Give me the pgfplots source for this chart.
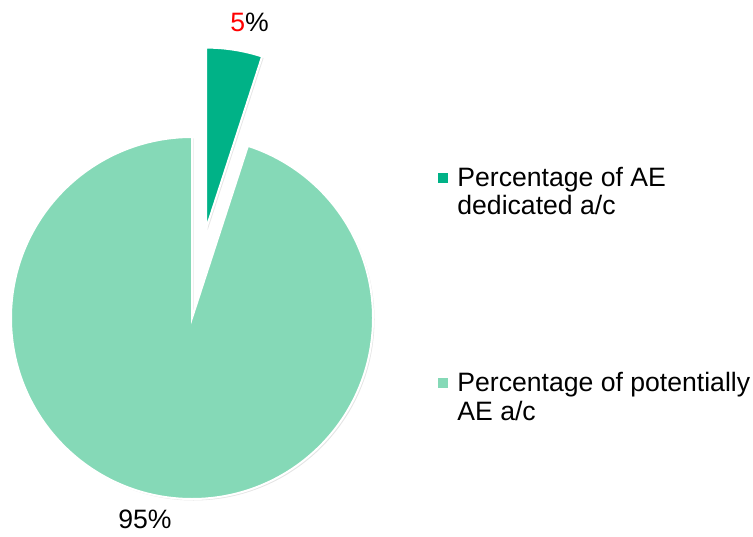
\documentclass[border=0pt]{standalone}
\usepackage{pgfplots}
\usepackage{pgfplotstable}
\usepackage{fontspec}
\setmainfont{Liberation Sans}
\pgfplotsset{compat=1.18}
\definecolor{dedicated}{RGB}{0,178,135}
\definecolor{potential}{RGB}{133,217,183}

\pgfplotstableread{
label value
dedicated 5
potential 95
}\piedata

\begin{document}
\begin{tikzpicture}
\pgfplotstablegetelem{0}{value}\of\piedata \let\va\pgfplotsretval
\pgfplotstablegetelem{1}{value}\of\piedata \let\vb\pgfplotsretval
% slice angles (start at 12 o'clock, clockwise)
\pgfmathsetmacro{\aEnd}{90}
\pgfmathsetmacro{\aStart}{90-360*\va/(\va+\vb)}
\pgfmathsetmacro{\aMid}{(\aStart+\aEnd)/2}
\def\R{90.5pt}
\def\lblfont{\fontsize{13.3}{14.5}\selectfont}
\begin{axis}[
    scale only axis,
    width=376.5pt, height=268pt,
    xmin=0, xmax=753, ymin=0, ymax=536,
    hide axis,
    clip=false,
]
% 95% slice
\fill[black!10] (axis cs:193.5,216.5) -- ++(\aEnd:\R) arc[start angle=\aEnd, end angle=\aStart+360, radius=\R] -- cycle;
\filldraw[fill=potential, draw=white, line width=1pt] (axis cs:192,218) -- ++(\aEnd:\R) arc[start angle=\aEnd, end angle=\aStart+360, radius=\R] -- cycle;
% 5% slice, pulled out
\fill[black!10] (axis cs:192,218) ++(\aMid:0.5*\R) ++(0.75pt,-0.75pt) -- ++(\aStart:\R) arc[start angle=\aStart, end angle=\aEnd, radius=\R] -- cycle;
\filldraw[fill=dedicated, draw=white, line width=1pt] (axis cs:192,218) ++(\aMid:0.5*\R) -- ++(\aStart:\R) arc[start angle=\aStart, end angle=\aEnd, radius=\R] -- cycle;
% data labels
\node[anchor=base west, inner sep=0pt, font=\lblfont] at (axis cs:230,504) {\textcolor{red}{5}\%};
\node[anchor=base west, inner sep=0pt, font=\lblfont] at (axis cs:118,8) {95\%};
% legend
\fill[dedicated] (axis cs:438,353) rectangle (axis cs:448,363);
\node[anchor=base west, inner sep=0pt, align=left, font=\lblfont] at (axis cs:457,321) {Percentage of AE\\dedicated a/c};
\fill[potential] (axis cs:438,148) rectangle (axis cs:448,158);
\node[anchor=base west, inner sep=0pt, align=left, font=\lblfont] at (axis cs:457,116) {Percentage of potentially\\AE a/c};
\end{axis}
\pgfresetboundingbox
\path (0,0) rectangle (376.5pt,268pt);
\end{tikzpicture}
\end{document}
